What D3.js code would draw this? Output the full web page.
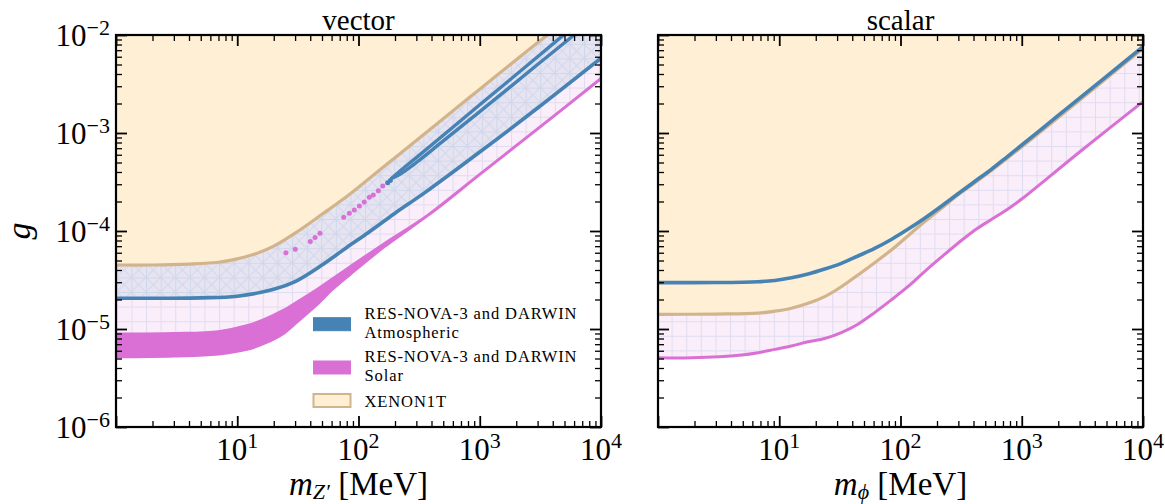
<!DOCTYPE html>
<html><head><meta charset="utf-8">
<script src="https://cdn.jsdelivr.net/npm/d3@7"></script>
<style>
body{margin:0;background:#fff}
svg{display:block}
text{font-family:"Liberation Serif","Times New Roman",serif;fill:#000}
</style>
</head><body>
<svg id="c" width="1165" height="504"></svg>
<script>
// ---------------- DATA ----------------
const panelTitles = ["vector", "scalar"];
const xTickLabelsExp = [1, 2, 3, 4];          // 10^1 ... 10^4
const yTickLabelsExp = [-2, -3, -4, -5, -6];  // 10^-2 ... 10^-6
const legendLabels = [["RES-NOVA-3 and DARWIN", "Atmospheric"], ["RES-NOVA-3 and DARWIN", "Solar"], ["XENON1T"]];

// vector panel
const massV_xenon = [1, 2, 4, 7, 10, 15, 20, 30, 50, 75, 100, 200, 500, 1000, 2000, 3600, 10000];
const gV_xenon    = [4.5e-5, 4.5e-5, 4.6e-5, 4.8e-5, 5.2e-5, 6.0e-5, 7.0e-5, 9.5e-5, 1.48e-4, 2.12e-4, 2.8e-4, 5.6e-4, 1.4e-3, 2.8e-3, 5.6e-3, 1.0e-2, 2.8e-2];

const massV_atm = [1, 5, 10, 20, 30, 50, 80, 120, 200, 350, 1000, 3000, 10000];
const gV_atm    = [2.06e-5, 2.08e-5, 2.16e-5, 2.54e-5, 3.05e-5, 4.5e-5, 6.8e-5, 9.6e-5, 1.52e-4, 2.45e-4, 6.4e-4, 1.8e-3, 5.8e-3];

const massV_atmTongueA = [188, 220, 300, 500, 1000, 3000, 5000, 8000];
const gV_atmTongueA    = [3.45e-4, 4.1e-4, 5.6e-4, 9.5e-4, 1.94e-3, 6.0e-3, 1.02e-2, 1.65e-2];
const massV_atmTongueB = [188, 220, 300, 500, 1000, 3000, 6000, 10000];
const gV_atmTongueB    = [3.45e-4, 3.8e-4, 5.0e-4, 8.3e-4, 1.65e-3, 5.0e-3, 1.0e-2, 1.67e-2];

const massV_solar = [1, 3, 7, 12, 17, 24, 32, 45, 60, 85, 160, 377, 1000, 3000, 10000];
const gV_solarHi  = [8.9e-6, 9.0e-6, 9.4e-6, 1.08e-5, 1.26e-5, 1.55e-5, 1.92e-5, 2.5e-5, 3.2e-5, 4.3e-5, 7.3e-5, 1.46e-4, 3.78e-4, 1.1e-3, 3.6e-3];
const gV_solarLo  = [5.2e-6, 5.3e-6, 5.56e-6, 6.2e-6, 7.2e-6, 9.0e-6, 1.22e-5, 1.76e-5, 2.5e-5, 3.6e-5, 6.8e-5, 1.46e-4, 3.78e-4, 1.1e-3, 3.6e-3];

const massV_solarDots = [25.2, 30.1, 40.0, 43.8, 48.1, 75.5, 84.0, 92.3, 101.6, 111.6, 122.7, 132.4, 145.6, 158.5];
const gV_solarDots    = [6.0e-5, 6.5e-5, 7.8e-5, 8.6e-5, 9.5e-5, 1.38e-4, 1.52e-4, 1.64e-4, 1.80e-4, 1.98e-4, 2.21e-4, 2.33e-4, 2.58e-4, 2.88e-4];
const massV_atmDots = [174, 183];
const gV_atmDots    = [3.11e-4, 3.28e-4];

// scalar panel
const massS_xenon = [1, 3, 6.7, 9.2, 12.6, 17.3, 23.7, 32.5, 44.6, 61.2, 84, 115, 158, 217, 298, 409, 770, 2000, 10000];
const gS_xenon    = [1.41e-5, 1.42e-5, 1.45e-5, 1.52e-5, 1.63e-5, 1.83e-5, 2.14e-5, 2.7e-5, 3.56e-5, 4.75e-5, 6.4e-5, 8.9e-5, 1.24e-4, 1.7e-4, 2.33e-4, 3.09e-4, 5.6e-4, 1.44e-3, 7.3e-3];

const massS_atm = [1, 3, 6.7, 9.2, 12.6, 17.3, 23.7, 32.5, 44.6, 61.2, 84, 115, 158, 217, 298, 409, 561, 770, 2000, 5000, 10000];
const gS_atm    = [2.97e-5, 2.98e-5, 3.04e-5, 3.13e-5, 3.33e-5, 3.64e-5, 4.09e-5, 4.68e-5, 5.56e-5, 6.65e-5, 8.2e-5, 1.04e-4, 1.35e-4, 1.79e-4, 2.4e-4, 3.2e-4, 4.26e-4, 5.82e-4, 1.51e-3, 3.78e-3, 7.6e-3];

const massS_solar = [1, 1.9, 4.9, 6.7, 9.2, 12.6, 17.3, 23.7, 32.5, 44.6, 61.2, 84, 115, 158, 217, 298, 409, 561, 770, 1000, 3000, 10000];
const gS_solar    = [5.09e-6, 5.09e-6, 5.43e-6, 5.73e-6, 6.2e-6, 6.7e-6, 7.4e-6, 8.0e-6, 9.2e-6, 1.12e-5, 1.47e-5, 1.98e-5, 2.7e-5, 3.85e-5, 5.4e-5, 7.5e-5, 1.02e-4, 1.31e-4, 1.68e-4, 2.12e-4, 6.4e-4, 2.09e-3];

// ---------------- LAYOUT / STYLE ----------------
const C = {blue: "#4682b4", pink: "#da70d6", tan: "#d2b48c", tanFill: "#ffefd5"};
const topY = 35, botY = 427;
const svg = d3.select("#c");
const zip = (ms, gs) => ms.map((m, i) => ({m, g: gs[i]}));
const curve = d3.curveCatmullRom.alpha(0.5);

const defs = svg.append("defs");
const s = 14.6;
const pPink = defs.append("pattern").attr("id", "hPink").attr("patternUnits", "userSpaceOnUse")
  .attr("width", s).attr("height", s);
pPink.append("rect").attr("width", s).attr("height", s).attr("fill", "#f9eef9");
pPink.append("path").attr("d", `M0,0.5H${s}M0.5,0V${s}`).attr("stroke", "#e1ddf0").attr("stroke-width", 1).attr("fill", "none");
const pLav = defs.append("pattern").attr("id", "hLav").attr("patternUnits", "userSpaceOnUse")
  .attr("width", s).attr("height", s);
pLav.append("rect").attr("width", s).attr("height", s).attr("fill", "#e7e4f2");
pLav.append("path").attr("d", `M0,0.5H${s}M0.5,0V${s}M0,0L${s},${s}M${s},0L0,${s}`)
  .attr("stroke", "#d0d7ea").attr("stroke-width", 1).attr("fill", "none");

const panels = [
  {x0: 116, x1: 601, title: panelTitles[0], xlabelSub: "Z′",
   xenon: zip(massV_xenon, gV_xenon), atm: zip(massV_atm, gV_atm),
   solarLo: zip(massV_solar, gV_solarLo), solarHi: zip(massV_solar, gV_solarHi), vector: true},
  {x0: 658, x1: 1143, title: panelTitles[1], xlabelSub: "ϕ",
   xenon: zip(massS_xenon, gS_xenon), atm: zip(massS_atm, gS_atm),
   solarLo: zip(massS_solar, gS_solar), vector: false}
];

panels.forEach((P, pi) => {
  const x = d3.scaleLog().domain([1, 1e4]).range([P.x0, P.x1]);
  const y = d3.scaleLog().domain([1e-6, 1e-2]).range([botY, topY]);
  const g = svg.append("g");
  const cid = "clip" + pi;
  defs.append("clipPath").attr("id", cid).append("rect")
    .attr("x", P.x0).attr("y", topY).attr("width", P.x1 - P.x0).attr("height", botY - topY);
  const plot = g.append("g").attr("clip-path", `url(#${cid})`);

  const areaAbove = d3.area().x(d => x(d.m)).y0(topY - 60).y1(d => y(d.g)).curve(curve);
  const line = d3.line().x(d => x(d.m)).y(d => y(d.g)).curve(curve);

  plot.append("path").attr("d", areaAbove(P.solarLo)).attr("fill", "url(#hPink)");
  plot.append("path").attr("d", areaAbove(P.atm)).attr("fill", "url(#hLav)");
  plot.append("path").attr("d", areaAbove(P.xenon)).attr("fill", C.tanFill);
  plot.append("path").attr("d", line(P.xenon)).attr("fill", "none").attr("stroke", C.tan).attr("stroke-width", 3.2);

  if (P.vector) {
    const band = P.solarLo.map((d, i) => ({m: d.m, lo: d.g, hi: P.solarHi[i].g}));
    const bandArea = d3.area().x(d => x(d.m)).y0(d => y(d.lo)).y1(d => y(d.hi)).curve(curve);
    plot.append("path").attr("d", bandArea(band)).attr("fill", C.pink)
      .attr("stroke", C.pink).attr("stroke-width", 3).attr("stroke-linejoin", "round");
    plot.selectAll("circle.sd").data(zip(massV_solarDots, gV_solarDots)).join("circle")
      .attr("cx", d => x(d.m)).attr("cy", d => y(d.g)).attr("r", 2.5).attr("fill", C.pink);
    plot.selectAll("circle.ad").data(zip(massV_atmDots, gV_atmDots)).join("circle")
      .attr("cx", d => x(d.m)).attr("cy", d => y(d.g)).attr("r", 2.5).attr("fill", C.blue);
    plot.append("path").attr("d", line(zip(massV_atmTongueA, gV_atmTongueA))).attr("fill", "none")
      .attr("stroke", C.blue).attr("stroke-width", 3.4).attr("stroke-linecap", "round");
    plot.append("path").attr("d", line(zip(massV_atmTongueB, gV_atmTongueB))).attr("fill", "none")
      .attr("stroke", C.blue).attr("stroke-width", 3.4).attr("stroke-linecap", "round");
  } else {
    plot.append("path").attr("d", line(P.solarLo)).attr("fill", "none").attr("stroke", C.pink).attr("stroke-width", 3);
  }
  plot.append("path").attr("d", line(P.atm)).attr("fill", "none").attr("stroke", C.blue).attr("stroke-width", 3.6);

  // ---- axes (ticks inward on all sides) ----
  const isMajor = v => Math.abs(Math.log10(v) - Math.round(Math.log10(v))) < 1e-9;
  const xt = x.ticks(), yt = y.ticks();
  const xMaj = xt.filter(isMajor), xMin = xt.filter(v => !isMajor(v));
  const yMaj = yt.filter(isMajor), yMin = yt.filter(v => !isMajor(v));
  const styleAx = (sel, w) => { sel.select(".domain").remove(); sel.selectAll("line").attr("stroke-width", w); sel.selectAll("text").remove(); };
  const addAx = (axis, tr, w) => g.append("g").attr("transform", tr).call(axis).call(sel => styleAx(sel, w));
  addAx(d3.axisBottom(x).tickValues(xMaj).tickSize(-11).tickSizeOuter(0), `translate(0,${botY})`, 1.8);
  addAx(d3.axisBottom(x).tickValues(xMin).tickSize(-6).tickSizeOuter(0), `translate(0,${botY})`, 1.3);
  addAx(d3.axisTop(x).tickValues(xMaj).tickSize(-11).tickSizeOuter(0), `translate(0,${topY})`, 1.8);
  addAx(d3.axisTop(x).tickValues(xMin).tickSize(-6).tickSizeOuter(0), `translate(0,${topY})`, 1.3);
  addAx(d3.axisLeft(y).tickValues(yMaj).tickSize(-11).tickSizeOuter(0), `translate(${P.x0},0)`, 1.8);
  addAx(d3.axisLeft(y).tickValues(yMin).tickSize(-6).tickSizeOuter(0), `translate(${P.x0},0)`, 1.3);
  addAx(d3.axisRight(y).tickValues(yMaj).tickSize(-11).tickSizeOuter(0), `translate(${P.x1},0)`, 1.8);
  addAx(d3.axisRight(y).tickValues(yMin).tickSize(-6).tickSizeOuter(0), `translate(${P.x1},0)`, 1.3);

  g.append("rect").attr("x", P.x0).attr("y", topY).attr("width", P.x1 - P.x0).attr("height", botY - topY)
    .attr("fill", "none").attr("stroke", "#000").attr("stroke-width", 2.2);

  // x tick labels
  xTickLabelsExp.forEach(e => {
    const t = g.append("text").attr("x", x(Math.pow(10, e))).attr("y", 459.5).attr("text-anchor", "middle")
      .attr("font-size", 31);
    t.append("tspan").text("10");
    t.append("tspan").attr("font-size", 22).attr("dy", -11.5).text(String(e));
  });
  // y tick labels (left panel only)
  if (pi === 0) {
    yTickLabelsExp.forEach(e => {
      const t = g.append("text").attr("x", 110).attr("y", y(Math.pow(10, e)) + 11).attr("text-anchor", "end")
        .attr("font-size", 31);
      t.append("tspan").text("10");
      t.append("tspan").attr("font-size", 22).attr("dy", -11.5).text("−" + Math.abs(e));
    });
    svg.append("text").attr("transform", `translate(30,231) rotate(-90)`).attr("text-anchor", "middle")
      .attr("font-size", 34).attr("font-style", "italic").text("g");
  }
  // title
  g.append("text").attr("x", (P.x0 + P.x1) / 2).attr("y", 29.5).attr("text-anchor", "middle")
    .attr("font-size", 29).text(P.title);
  // x label
  const xl = g.append("text").attr("x", (P.x0 + P.x1) / 2).attr("y", 494.5).attr("text-anchor", "middle").attr("font-size", 33);
  xl.append("tspan").attr("font-style", "italic").text("m");
  xl.append("tspan").attr("font-style", "italic").attr("font-size", 22).attr("dy", 4).text(P.xlabelSub);
  xl.append("tspan").attr("dy", -4).text(" [MeV]");

  // legend (left panel)
  if (pi === 0) {
    const patchY = [317.7, 361, 394];
    const textY = [[319, 337.5], [362.3, 380.8], [406.7]];
    const fills = [C.blue, C.pink, C.tanFill];
    const strokes = [C.blue, C.pink, C.tan];
    legendLabels.forEach((lab, i) => {
      g.append("rect").attr("x", 313.5).attr("y", patchY[i]).attr("width", 37).attr("height", 13)
        .attr("fill", fills[i]).attr("stroke", strokes[i]).attr("stroke-width", i === 2 ? 2 : 1);
      lab.forEach((l, k) => g.append("text").attr("x", 364.5).attr("y", textY[i][k]).attr("font-size", 16.5)
        .attr("letter-spacing", 0.9).text(l));
    });
  }
});
</script>
</body></html>
